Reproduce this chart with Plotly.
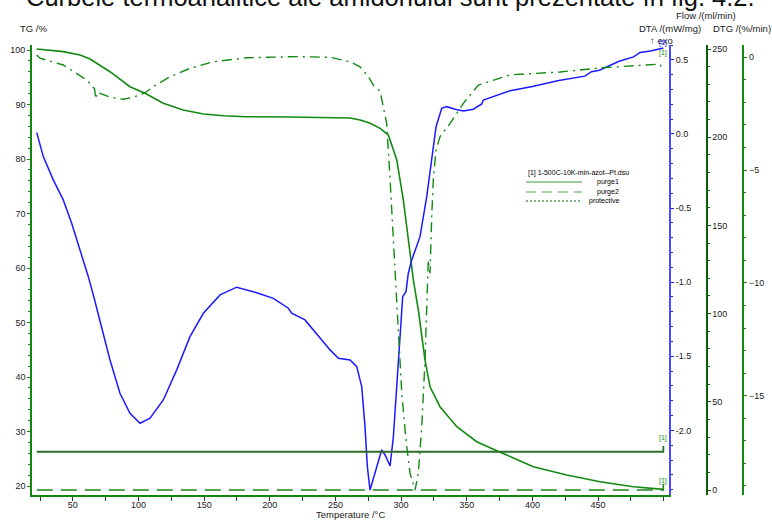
import plotly.graph_objects as go

# ---------------- data ----------------
tg_temp = [22.5, 30, 42.7, 55.5, 63.1, 78.3, 93.5, 105.0, 118.9, 134.1, 149.4, 165.0, 182.4,
           215.0, 245.9, 261.1, 268.7, 276.0, 284.0, 290.3, 296.7, 301.7, 306.8, 309.3, 313.1,
           318.2, 322.0, 329.6, 342.4, 357.6, 372.8, 383.0, 400.7, 426.1, 451.5, 476.9, 499.7]
tg_val = [100.18, 100.05, 99.7, 99.1, 98.35, 96.02, 93.27, 92.06, 90.22, 88.99, 88.26, 87.95, 87.76,
          87.7, 87.65, 87.52, 87.16, 86.6, 85.63, 84.40, 79.82, 72.48, 62.75, 57.8, 52.3,
          43.1, 38.2, 34.55, 30.88, 28.13, 26.48, 25.38, 23.55, 22.02, 20.79, 19.87, 19.39]

dta_temp = [22.5, 27.5, 35.1, 42.7, 49.1, 55.5, 58.0, 61.8, 66.0, 70.7, 78.3, 85.9, 93.5, 101.2,
            108.8, 118.9, 129.1, 139.2, 149.4, 162.1, 174.8, 190.0, 202.7, 214.1, 216.7, 226.8,
            238.3, 245.9, 252.2, 258.6, 261.1, 266.2, 270.0, 272.5, 274.3, 276.3, 280.1, 285.2,
            287.8, 291.6, 294.1, 296.7, 299.2, 301.2, 303.7, 305.5, 308.1, 314.4, 319.5, 323.3,
            326.6, 330.9, 334.7, 341.1, 347.4, 355.0, 361.4, 362.6, 372.8, 383.0, 400.0, 420.0,
            440.0, 445.0, 451.0, 466.0, 477.0, 482.0, 490.0, 499.7]
dta_val = [0.009, -0.153, -0.310, -0.445, -0.603, -0.783, -0.850, -0.963, -1.10, -1.255, -1.525,
           -1.750, -1.885, -1.952, -1.918, -1.795, -1.592, -1.368, -1.210, -1.086, -1.034, -1.071,
           -1.109, -1.176, -1.210, -1.255, -1.379, -1.457, -1.514, -1.525, -1.525, -1.570, -1.705,
           -1.975, -2.245, -2.402, -2.290, -2.132, -2.166, -2.240, -2.043, -1.682, -1.412, -1.098,
           -1.064, -0.940, -0.850, -0.693, -0.423, -0.153, 0.049, 0.173, 0.184, 0.167, 0.155,
           0.167, 0.202, 0.229, 0.263, 0.292, 0.32, 0.36, 0.39, 0.42, 0.43, 0.49, 0.52, 0.55,
           0.56, 0.58]

dtg_temp = [22.5, 25.0, 42.7, 60.6, 66.5, 67.6, 68.4, 78.3, 88.4, 96.1, 105.0, 111.3, 124.0,
            139.2, 157.0, 182.4, 220.5, 245.9, 261.1, 268.7, 275.0, 279.0, 284.0, 286.5, 289.0,
            291.6, 294.1, 295.4, 297.9, 300.5, 303.7, 306.8, 310.6, 313.1, 315.7, 318.2, 320.7,
            322.0, 323.3, 324.5, 326.6, 329.6, 337.3, 347.4, 358.8, 383.0, 421.0, 451.5, 497.0,
            499.7]
dtg_val = [0.10, -0.04, -0.34, -1.01, -1.40, -1.85, -1.55, -1.77, -1.86, -1.77, -1.57, -1.30,
           -0.86, -0.49, -0.20, -0.02, 0.03, 0.0, -0.20, -0.42, -0.86, -1.25, -1.50, -2.2, -2.93,
           -5.44, -8.10, -8.98, -11.94, -14.89, -16.96, -18.44, -19.18, -18.44, -16.37, -13.42,
           -8.98, -9.57, -7.07, -5.44, -4.11, -3.52, -2.93, -2.04, -1.23, -0.78, -0.65, -0.47,
           -0.30, -0.55]

flow_temp = [22.5, 100.0, 200.0, 300.0, 400.0, 499.7, 499.7]
purge1 = [21.7, 21.7, 21.7, 21.7, 21.7, 21.7, 25.0]
purge2 = [0.0, 0.0, 0.0, 0.0, 0.0, 0.0, 3.4]

x_ticks = [50, 100, 150, 200, 250, 300, 350, 400, 450]
tg_ticks = [20, 30, 40, 50, 60, 70, 80, 90, 100]
dta_ticks = [-2.0, -1.5, -1.0, -0.5, 0.0, 0.5]
flow_ticks = [0, 50, 100, 150, 200, 250]
dtg_ticks = [-15, -10, -5, 0]

# ---------------- styles ----------------
GREEN = "#128a12"
DKGREEN = "#0b5e0b"
BLUE = "#1a1aff"
AXBLUE = "#4a4aff"
FONT = "Liberation Sans, Arial, sans-serif"
TXT = "#1a1a1a"

W, H = 772, 520
L, R, T, B = 32, 12, 45, 25
PW = W - L - R
PH = H - T - B


def px(x):
    return (x - L) / PW


def py(y):
    return (H - B - y) / PH


fig = go.Figure()
fig.add_trace(go.Scatter(x=tg_temp, y=tg_val, mode="lines", yaxis="y",
                         line=dict(color=GREEN, width=1.6), showlegend=False, name="TG"))
fig.add_trace(go.Scatter(x=dtg_temp, y=dtg_val, mode="lines", yaxis="y4",
                         line=dict(color=GREEN, width=1.4, dash="10px,5px,2px,5px"),
                         showlegend=False, name="DTG"))
fig.add_trace(go.Scatter(x=flow_temp, y=purge1, mode="lines", yaxis="y3",
                         line=dict(color="#2b6e2b", width=1.8), showlegend=False, name="purge1"))
fig.add_trace(go.Scatter(x=flow_temp, y=purge2, mode="lines", yaxis="y3",
                         line=dict(color="#1f7f1f", width=1.6, dash="16px,8px"),
                         showlegend=False, name="purge2"))
fig.add_trace(go.Scatter(x=dta_temp, y=dta_val, mode="lines", yaxis="y2",
                         line=dict(color=BLUE, width=1.5), showlegend=False, name="DTA"))

tickfont = dict(family=FONT, size=9, color=TXT)
xdom = px(669)

fig.update_layout(
    width=W, height=H,
    margin=dict(l=L, r=R, t=T, b=B, autoexpand=False),
    plot_bgcolor="white", paper_bgcolor="white",
    font=dict(family=FONT, size=9, color=TXT),
    xaxis=dict(domain=[0, xdom], range=[18.9, 504], showline=True, linecolor=GREEN, linewidth=1.5,
               ticks="outside", ticklen=4, tickcolor="#333", tickvals=x_ticks, tickfont=tickfont,
               ticklabelstandoff=-3, showgrid=False, zeroline=False,
               minor=dict(dtick=25, tick0=0, ticks="outside", ticklen=4, tickcolor="#333")),
    yaxis=dict(range=[18.35, 100.92], showline=True, linecolor=GREEN, linewidth=1.8,
               ticks="outside", ticklen=3, tickcolor=GREEN, tickvals=tg_ticks, tickfont=tickfont,
               showgrid=False, zeroline=False,
               minor=dict(dtick=2, tick0=0, ticks="outside", ticklen=2, tickcolor=GREEN)),
    yaxis2=dict(range=[-2.436, 0.60], overlaying="y", side="right", anchor="x",
                showline=True, linecolor=AXBLUE, linewidth=2, ticks="outside", ticklen=3,
                tickcolor=BLUE, tickvals=dta_ticks, ticktext=["-2.0", "-1.5", "-1.0", "-0.5", "0.0", "0.5"],
                tickfont=tickfont, showgrid=False, zeroline=False,
                minor=dict(dtick=0.1, tick0=0, ticks="outside", ticklen=2, tickcolor=BLUE)),
    yaxis3=dict(range=[-2.83, 252.3], overlaying="y", side="right", anchor="free", position=px(705.7),
                showline=True, linecolor=DKGREEN, linewidth=1.8, ticks="outside", ticklen=3,
                tickcolor=DKGREEN, tickvals=flow_ticks, tickfont=tickfont, showgrid=False, zeroline=False,
                minor=dict(dtick=10, tick0=0, ticks="outside", ticklen=2, tickcolor=DKGREEN)),
    yaxis4=dict(range=[-19.40, 0.545], overlaying="y", side="right", anchor="free", position=px(742.3),
                showline=True, linecolor=GREEN, linewidth=1.8, ticks="outside", ticklen=3,
                tickcolor=GREEN, tickvals=dtg_ticks, tickfont=tickfont, showgrid=False, zeroline=False,
                minor=dict(dtick=1, tick0=0, ticks="outside", ticklen=2, tickcolor=GREEN)),
)

ann = []


def text(x, y, s, size=9.5, color=TXT, xanchor="left"):
    ann.append(dict(x=px(x), y=py(y), xref="paper", yref="paper", text=s, showarrow=False,
                    xanchor=xanchor, yanchor="middle", font=dict(family=FONT, size=size, color=color)))


text(18, 28, "TG /%")
text(706, 16, "Flow /(ml/min)", xanchor="center")
text(669.5, 28, "DTA /(mW/mg)", xanchor="center")
text(741.5, 28, "DTG /(%/min)", xanchor="center")
text(648, 40, "↑ exo")
text(350, 514, "Temperature /°C", xanchor="center")
# curve end markers
text(663.3, 43, "[1]", size=7, color=BLUE, xanchor="center")
text(663.3, 53, "[1]", size=7, color=GREEN, xanchor="center")
text(663.3, 438, "[1]", size=7, color=GREEN, xanchor="center")
text(663.3, 481, "[1]", size=7, color=GREEN, xanchor="center")
# legend block
text(526, 173, "[1] 1-500C-10K-min-azot--Pt.dsu", size=7, color="#000")
text(595, 182, "purge1", size=7, color="#000")
text(595, 192, "purge2", size=7, color="#000")
text(587, 201, "protective", size=7, color="#000")
# cut-off document text above the figure
text(757, -2.5, "Curbele termoanalitice ale amidonului sunt prezentate în fig. 4.2.", size=25.5,
     color="#111", xanchor="right")

fig.update_layout(annotations=ann)

shapes = [
    dict(type="line", xref="paper", yref="paper", x0=px(526), x1=px(582), y0=py(182), y1=py(182),
         line=dict(color="#3f9e3f", width=1.2)),
    dict(type="line", xref="paper", yref="paper", x0=px(526), x1=px(582), y0=py(192), y1=py(192),
         line=dict(color="#8cc88c", width=1.6, dash="10px,6px")),
    dict(type="line", xref="paper", yref="paper", x0=px(526), x1=px(582), y0=py(201), y1=py(201),
         line=dict(color=DKGREEN, width=1, dash="2px,2px")),
]
fig.update_layout(shapes=shapes)

fig.write_html("out.html", config={"displayModeBar": False, "staticPlot": True},
               post_script="document.body.style.margin='0px';document.body.style.overflow='hidden';")
